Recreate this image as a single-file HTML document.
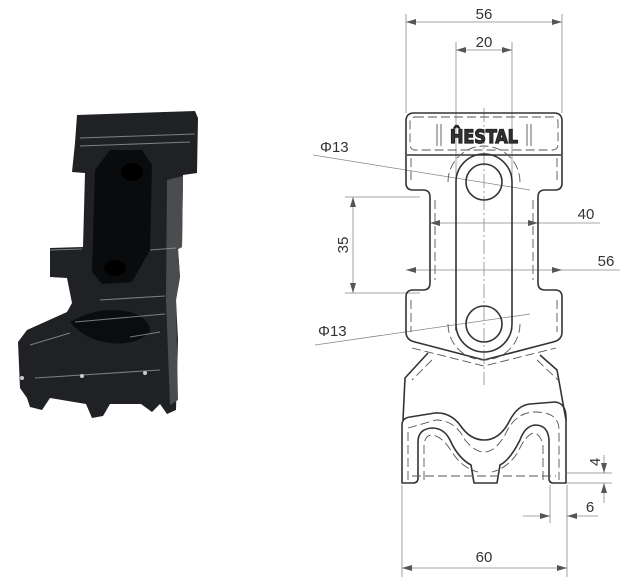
<!DOCTYPE html>
<html><head><meta charset="utf-8">
<style>
html,body{margin:0;padding:0;background:#fff;}
svg{display:block}
text{font-family:"Liberation Sans",sans-serif;fill:#333}
</style></head><body>
<svg width="640" height="587" viewBox="0 0 640 587" xmlns="http://www.w3.org/2000/svg">
<defs>
<marker id="a" viewBox="0 0 10 6" refX="10" refY="3" markerWidth="10" markerHeight="6" orient="auto-start-reverse" markerUnits="userSpaceOnUse">
<path d="M0,0 L10,3 L0,6 z" fill="#555"/></marker>
</defs>

<!-- PHOTO -->
<g>
<path d="M77,115 L195,111 L198,118 L197,173 L183,175 L182,247 L178,249 L180,277 L176,300 L178,340 L176,410 L167,414 L160,404 L152,412 L141,404 L110,404 L103,416 L92,418 L86,404 L50,398 L42,410 L30,407 L27,398 L20,388 L18,342 L27,330 L67,312 L72,303 L67,278 L50,277 L50,248 L83,247 L85,173 L72,172 L75,143 Z" fill="#202124"/>
<path d="M167,180 L183,176 L182,247 L178,249 L180,277 L176,300 L178,400 L170,405 L166,300 Z" fill="#4a4c50"/>
<path d="M110,150 L142,150 L152,165 L150,250 L132,282 L102,284 L92,272 L95,170 Z" fill="#0a0b0c"/>
<ellipse cx="132" cy="172" rx="11" ry="9" fill="#000"/>
<ellipse cx="115" cy="268" rx="11" ry="8" fill="#000"/>
<path d="M70,322 Q100,305 130,312 Q150,318 150,332 Q135,346 110,343 Q85,340 70,322 Z" fill="#0b0c0d"/>
<g stroke="#9a9da2" stroke-width="1.1" fill="none" opacity="0.75">
<path d="M80,138 L195,134"/><path d="M80,146 L190,142"/>
<path d="M50,250 L82,249"/><path d="M150,250 L176,248"/>
<path d="M30,345 L70,333"/><path d="M35,378 L160,370"/>
<path d="M75,322 L165,314"/><path d="M130,337 L160,332"/>
<path d="M100,300 L165,296"/>
</g>
<circle cx="22" cy="378" r="2" fill="#ccc"/><circle cx="82" cy="376" r="2" fill="#ccc"/><circle cx="145" cy="373" r="2" fill="#ccc"/>
</g>

<!-- DRAWING -->
<g fill="none" stroke="#888" stroke-width="0.8">
<line x1="406" y1="14" x2="406" y2="113"/>
<line x1="562" y1="14" x2="562" y2="113"/>
<line x1="456" y1="42" x2="456" y2="330"/>
<line x1="512" y1="42" x2="512" y2="330"/>
<line x1="345" y1="197" x2="420" y2="197"/>
<line x1="345" y1="293" x2="420" y2="293"/>
<line x1="402" y1="485" x2="402" y2="577"/>
<line x1="567" y1="485" x2="567" y2="577"/>
<line x1="550" y1="485" x2="550" y2="523"/>
<line x1="567" y1="473" x2="612" y2="473"/>
<line x1="567" y1="483" x2="612" y2="483"/>
<line x1="406" y1="22" x2="562" y2="22" marker-start="url(#a)" marker-end="url(#a)"/>
<line x1="456" y1="50" x2="512" y2="50" marker-start="url(#a)" marker-end="url(#a)"/>
<line x1="353" y1="197" x2="353" y2="293" marker-start="url(#a)" marker-end="url(#a)"/>
<line x1="430" y1="223" x2="538" y2="223" marker-start="url(#a)" marker-end="url(#a)"/>
<line x1="538" y1="223" x2="600" y2="223"/>
<line x1="406" y1="270" x2="562" y2="270" marker-start="url(#a)" marker-end="url(#a)"/>
<line x1="562" y1="270" x2="620" y2="270"/>
<line x1="402" y1="568" x2="567" y2="568" marker-start="url(#a)" marker-end="url(#a)"/>
<line x1="523" y1="516" x2="550" y2="516" marker-end="url(#a)"/>
<line x1="598" y1="516" x2="567" y2="516" marker-end="url(#a)"/>
<line x1="604" y1="455" x2="604" y2="473" marker-end="url(#a)"/>
<line x1="604" y1="503" x2="604" y2="483" marker-end="url(#a)"/>
<line x1="313" y1="155" x2="530" y2="190"/>
<line x1="315" y1="345" x2="530" y2="314"/>
<line x1="484" y1="108" x2="484" y2="385" stroke-dasharray="14,3,2,3"/>
</g>

<g fill="none" stroke="#333" stroke-width="1.6" stroke-linejoin="round">
<path d="M414,113 L554,113 Q562,113 562,121 L562,183 Q562,190 555,190 L545,190 Q538,190 538,197 L538,283 Q538,290 545,290 L555,290 Q562,290 562,297 L562,332 Q562,340 553,342 L484,360 L415,342 Q406,340 406,332 L406,297 Q406,290 413,290 L423,290 Q430,290 430,283 L430,197 Q430,190 423,190 L413,190 Q406,190 406,183 L406,121 Q406,113 414,113 Z"/>
<line x1="407" y1="155" x2="561" y2="155"/>
<path d="M456,330 L456,182 A28,28 0 0 1 512,182 L512,324 A28,28 0 0 1 456,324 Z"/>
<circle cx="484" cy="182" r="18"/>
<circle cx="484" cy="324" r="18"/>
<path d="M428,353 L405,378 L403,420"/>
<path d="M540,355 L557,370 L566,420"/>
<path d="M402,483 L402,425 Q402,418 410,417 L435,413 Q450,412 460,425 Q470,440 484,440 Q500,440 510,420 Q518,405 530,404 L555,402 Q566,403 566,418 L566,483 L553,483 Q549,483 549,478 L549,440 Q548,425 535,425 Q525,426 520,440 Q510,460 500,465 L497,483 L474,483 L471,465 Q458,458 450,440 Q444,428 432,428 Q418,429 418,442 L418,478 Q418,483 413,483 Z"/>
</g>
<g fill="none" stroke="#555" stroke-width="0.9" stroke-dasharray="9,4">
<rect x="410" y="117" width="148" height="33" rx="5"/>
<path d="M411,158 L411,183 M557,158 L557,183 M435,200 L435,280 M533,200 L533,280 M411,300 L411,332 M557,300 L557,332"/>
<path d="M448,182 A36,36 0 0 1 520,182 M448,324 A36,36 0 0 0 520,324"/>
<path d="M412,348 L484,366 L556,348"/>
<path d="M432,360 L412,380 M537,360 L558,380"/>
<path d="M408,480 L408,428 L436,420 Q455,420 465,440 Q475,452 484,452 Q495,452 505,435 Q515,412 535,412 Q559,412 559,430 L559,480"/>
<path d="M424,480 L424,445 Q425,435 432,435 Q442,436 452,452 Q462,468 478,472 M543,480 L543,445 Q540,433 533,433 Q525,436 518,452 Q508,468 492,472"/>
<path d="M412,476 L556,476"/>
</g>

<g font-size="15">
<text x="484" y="19" text-anchor="middle">56</text>
<text x="484" y="47" text-anchor="middle">20</text>
<text x="320" y="152">Φ13</text>
<text x="318" y="336">Φ13</text>
<text x="586" y="219" text-anchor="middle">40</text>
<text x="606" y="266" text-anchor="middle">56</text>
<text x="484" y="562" text-anchor="middle">60</text>
<text x="590" y="512" text-anchor="middle">6</text>
<text transform="translate(348,245) rotate(-90)" text-anchor="middle">35</text>
<text transform="translate(600,462) rotate(-90)" text-anchor="middle">4</text>
</g>
<text x="484" y="143" text-anchor="middle" font-size="19" font-weight="bold" fill="#fff" stroke="#222" stroke-width="1.2" style="font-family:'DejaVu Sans Condensed','Liberation Sans Narrow',sans-serif" textLength="68" lengthAdjust="spacingAndGlyphs">ĤESTAL</text>
<g stroke="#555" stroke-width="0.9">
<line x1="437" y1="124" x2="437" y2="146"/><line x1="441" y1="124" x2="441" y2="146"/>
<line x1="527" y1="124" x2="527" y2="146"/><line x1="531" y1="124" x2="531" y2="146"/>
</g>
</svg>
</body></html>
